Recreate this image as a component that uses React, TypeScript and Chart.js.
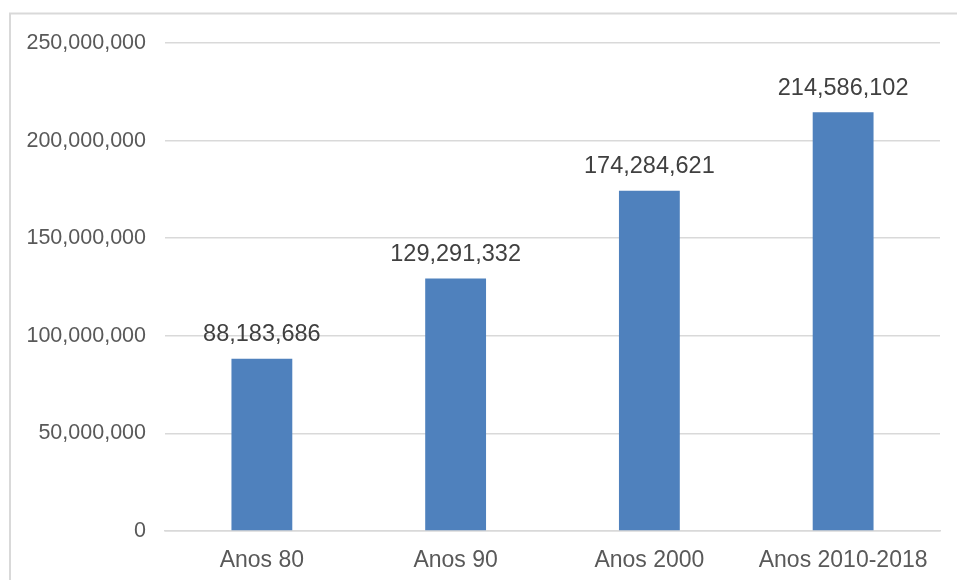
import React, { useEffect, useRef } from "react";
import { Chart, registerables } from "chart.js";

Chart.register(...registerables);

const categories: string[] = ["Anos 80", "Anos 90", "Anos 2000", "Anos 2010-2018"];
const totals: number[] = [88183686, 129291332, 174284621, 214586102];
const yMax = 250000000;
const yStep = 50000000;

const FONT = "'Liberation Sans', Arial, sans-serif";

const fmt = (v: number) => v.toLocaleString("en-US");

// Light frame drawn behind the chart (right and bottom edges run past the canvas)
const framePlugin = {
  id: "frame",
  beforeDraw(chart: any) {
    const ctx = chart.ctx;
    ctx.save();
    ctx.strokeStyle = "#d9d9d9";
    ctx.lineWidth = 2;
    ctx.strokeRect(10, 13.5, 2000, 2000);
    ctx.restore();
  },
};

// Value labels above each bar
const valueLabels = {
  id: "valueLabels",
  afterDatasetsDraw(chart: any) {
    const ctx = chart.ctx;
    const meta = chart.getDatasetMeta(0);
    ctx.save();
    ctx.fillStyle = "#404040";
    ctx.font = `23.5px ${FONT}`;
    ctx.textAlign = "center";
    ctx.textBaseline = "alphabetic";
    meta.data.forEach((bar: any, i: number) => {
      ctx.fillText(fmt(totals[i]), bar.x, bar.y - 17.5);
    });
    ctx.restore();
  },
};

export default function App() {
  const canvasRef = useRef<HTMLCanvasElement | null>(null);

  useEffect(() => {
    document.body.style.margin = "0";
    const canvas = canvasRef.current;
    if (!canvas) return;
    const chart = new Chart(canvas, {
      type: "bar",
      data: {
        labels: categories,
        datasets: [
          {
            data: totals,
            backgroundColor: "#4f81bd",
            borderWidth: 0,
            categoryPercentage: 1,
            barPercentage: 0.314,
          },
        ],
      },
      options: {
        animation: false,
        responsive: false,
        maintainAspectRatio: false,
        layout: { padding: { top: 43, right: 17, left: 0, bottom: 0 } },
        plugins: {
          legend: { display: false },
          tooltip: { enabled: false },
        },
        scales: {
          x: {
            grid: { display: false, drawTicks: false },
            border: { display: true, color: "#d9d9d9", width: 1.5 },
            ticks: {
              color: "#595959",
              font: { family: FONT, size: 23 },
              padding: 16,
              maxRotation: 0,
              autoSkip: false,
            },
            afterFit(scale: any) {
              scale.height = 49;
            },
          },
          y: {
            min: 0,
            max: yMax,
            grid: { color: "#d9d9d9", lineWidth: 1.5, drawTicks: false },
            border: { display: false },
            ticks: {
              stepSize: yStep,
              color: "#595959",
              font: { family: FONT, size: 21.5 },
              padding: 19,
              callback: (v: any) => fmt(Number(v)),
            },
            afterFit(scale: any) {
              scale.width = 165;
            },
          },
        },
      },
      plugins: [framePlugin, valueLabels],
    });
    return () => chart.destroy();
  }, []);

  return (
    <div style={{ position: "absolute", left: 0, top: 0, width: 957, height: 580, background: "#ffffff" }}>
      <canvas ref={canvasRef} width={957} height={580} style={{ display: "block" }} />
    </div>
  );
}
